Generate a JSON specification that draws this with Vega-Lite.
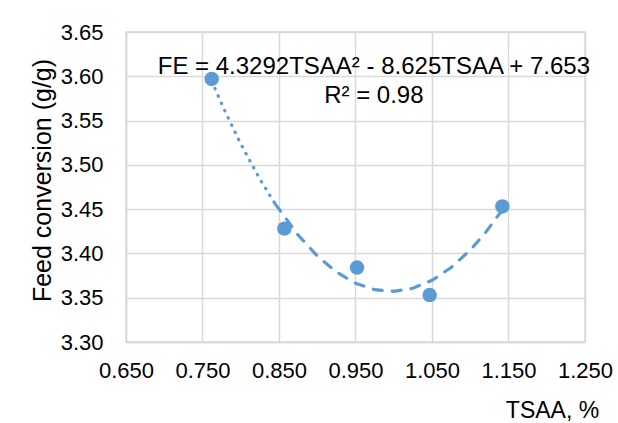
{
  "$schema": "https://vega.github.io/schema/vega-lite/v6.json",
  "width": 459,
  "height": 310,
  "autosize": {"type": "none"},
  "padding": {"left": 126, "top": 32, "right": 33, "bottom": 81},
  "background": "white",
  "config": {
    "view": {"stroke": "#d9d9d9", "strokeWidth": 1.5},
    "font": "Liberation Sans",
    "axis": {
      "grid": true,
      "gridColor": "#d9d9d9",
      "gridWidth": 1.5,
      "domainColor": "#d9d9d9",
      "domainWidth": 1.5,
      "ticks": false,
      "tickSize": 0,
      "labelFlush": false,
      "labelOverlap": false,
      "labelFont": "Liberation Sans",
      "labelFontSize": 22,
      "labelColor": "#000000",
      "titleFont": "Liberation Sans",
      "titleFontWeight": "normal",
      "titleColor": "#000000"
    }
  },
  "datasets": {
    "points": [
      {"TSAA": 0.762, "FE": 3.597},
      {"TSAA": 0.857, "FE": 3.428},
      {"TSAA": 0.952, "FE": 3.384},
      {"TSAA": 1.047, "FE": 3.353},
      {"TSAA": 1.142, "FE": 3.453}
    ],
    "trend": [
      {"TSAA": 0.762, "FE": 3.5945, "seg": "dot"},
      {"TSAA": 0.78, "FE": 3.5594, "seg": "dot"},
      {"TSAA": 0.8, "FE": 3.5237, "seg": "dot"},
      {"TSAA": 0.825, "FE": 3.4839, "seg": "dot"},
      {"TSAA": 0.845, "FE": 3.4560, "seg": "dot"},
      {"TSAA": 0.845, "FE": 3.4560, "seg": "dash"},
      {"TSAA": 0.875, "FE": 3.4207, "seg": "dash"},
      {"TSAA": 0.9, "FE": 3.3972, "seg": "dash"},
      {"TSAA": 0.925, "FE": 3.3791, "seg": "dash"},
      {"TSAA": 0.95, "FE": 3.3664, "seg": "dash"},
      {"TSAA": 0.975, "FE": 3.3591, "seg": "dash"},
      {"TSAA": 1.0, "FE": 3.3572, "seg": "dash"},
      {"TSAA": 1.025, "FE": 3.3607, "seg": "dash"},
      {"TSAA": 1.05, "FE": 3.3697, "seg": "dash"},
      {"TSAA": 1.075, "FE": 3.3841, "seg": "dash"},
      {"TSAA": 1.1, "FE": 3.4038, "seg": "dash"},
      {"TSAA": 1.12, "FE": 3.4236, "seg": "dash"},
      {"TSAA": 1.142, "FE": 3.4493, "seg": "dash"}
    ],
    "notes": [
      {"label": "FE = 4.3292TSAA² - 8.625TSAA + 7.653"},
      {"label": "R² = 0.98"}
    ]
  },
  "layer": [
    {
      "data": {"name": "trend"},
      "transform": [{"filter": {"field": "seg", "equal": "dot"}}],
      "mark": {"type": "line", "color": "#5b9bd5", "strokeWidth": 3.2, "strokeDash": [0.5, 7.5], "strokeCap": "round"},
      "encoding": {
        "x": {
          "field": "TSAA",
          "type": "quantitative",
          "scale": {"domain": [0.65, 1.25], "nice": false, "zero": false},
          "axis": {
            "values": [0.65, 0.75, 0.85, 0.95, 1.05, 1.15, 1.25],
            "format": ".3f",
            "labelPadding": 18,
            "title": "TSAA, %",
            "titleFontSize": 23,
            "titleX": 426,
            "titleY": 75,
            "titleAlign": "center",
            "titleBaseline": "alphabetic"
          }
        },
        "y": {
          "field": "FE",
          "type": "quantitative",
          "scale": {"domain": [3.3, 3.65], "nice": false, "zero": false},
          "axis": {
            "values": [3.3, 3.35, 3.4, 3.45, 3.5, 3.55, 3.6, 3.65],
            "format": ".2f",
            "labelPadding": 23,
            "title": "Feed conversion (g/g)",
            "titleFontSize": 25,
            "titleAngle": -90,
            "titleX": -76,
            "titleY": 148,
            "titleAlign": "center",
            "titleBaseline": "alphabetic"
          }
        }
      }
    },
    {
      "data": {"name": "trend"},
      "transform": [{"filter": {"field": "seg", "equal": "dash"}}],
      "mark": {"type": "line", "color": "#5b9bd5", "strokeWidth": 3.2, "strokeDash": [9, 10], "strokeCap": "round"},
      "encoding": {
        "x": {"field": "TSAA", "type": "quantitative"},
        "y": {"field": "FE", "type": "quantitative"}
      }
    },
    {
      "data": {"name": "points"},
      "mark": {"type": "circle", "color": "#5b9bd5", "opacity": 1, "size": 210},
      "encoding": {
        "x": {"field": "TSAA", "type": "quantitative"},
        "y": {"field": "FE", "type": "quantitative"}
      }
    },
    {
      "data": {"name": "notes"},
      "transform": [{"filter": {"field": "label", "equal": "FE = 4.3292TSAA² - 8.625TSAA + 7.653"}}],
      "mark": {"type": "text", "font": "Liberation Sans", "fontSize": 24, "align": "center", "baseline": "alphabetic", "color": "#000000"},
      "encoding": {
        "x": {"datum": 0.974, "type": "quantitative"},
        "y": {"datum": 3.6026, "type": "quantitative"},
        "text": {"field": "label", "type": "nominal"}
      }
    },
    {
      "data": {"name": "notes"},
      "transform": [{"filter": {"field": "label", "equal": "R² = 0.98"}}],
      "mark": {"type": "text", "font": "Liberation Sans", "fontSize": 24, "align": "center", "baseline": "alphabetic", "color": "#000000"},
      "encoding": {
        "x": {"datum": 0.974, "type": "quantitative"},
        "y": {"datum": 3.5698, "type": "quantitative"},
        "text": {"field": "label", "type": "nominal"}
      }
    }
  ]
}
